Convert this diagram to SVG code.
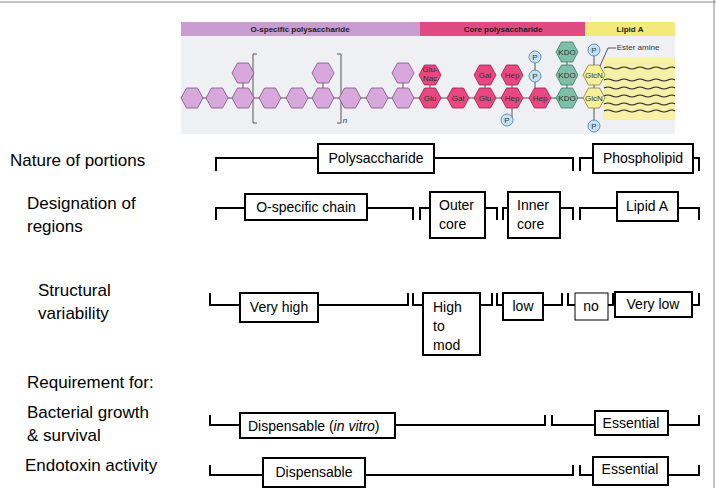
<svg xmlns="http://www.w3.org/2000/svg" width="716" height="488" viewBox="0 0 716 488">
<style>
.lbl{font-family:"Liberation Sans",Arial,sans-serif;font-size:17px;fill:#000}
.t{font-family:"Liberation Sans",Arial,sans-serif;font-size:14px;fill:#000}
.box{fill:#fff;stroke:#000;stroke-width:2}
.br{fill:none;stroke:#000;stroke-width:2}
.hx{font-family:"Liberation Sans",Arial,sans-serif;font-size:8px;fill:#333;text-anchor:middle}
.hd{font-family:"Liberation Sans",Arial,sans-serif;font-size:8px;font-weight:bold;fill:#222;text-anchor:middle}
.pu{fill:#d8a8dc;stroke:#7a5080;stroke-width:0.8}
.pk{fill:#e8487f;stroke:#9a2050;stroke-width:0.8}
.kd{fill:#7fbfa8;stroke:#3a7a6a;stroke-width:0.8}
.ye{fill:#f7ef9a;stroke:#8a8040;stroke-width:0.8}
.pc{fill:#c4e2f6;stroke:#4a7aa0;stroke-width:0.8}
.ln{stroke:#555;stroke-width:1;fill:none}
.wv{stroke:#222;stroke-width:1.2;fill:none}
</style>
<defs>
<polygon id="h" points="-11,0 -5.5,-10 5.5,-10 11,0 5.5,10 -5.5,10"/>
</defs>
<rect width="716" height="488" fill="#fff"/>
<line x1="0" y1="2" x2="716" y2="2" stroke="#888" stroke-width="1"/>
<line x1="714" y1="0" x2="714" y2="488" stroke="#888" stroke-width="1"/>

<g id="illustration">
<rect x="181" y="22" width="494" height="112" fill="#eef0f4"/>
<rect x="181" y="22" width="239" height="14" fill="#c99cd2"/>
<rect x="420" y="22" width="165" height="14" fill="#e04a82"/>
<rect x="585" y="22" width="90" height="14" fill="#f4ea7c"/>
<text class="hd" x="300" y="32">O-specific polysaccharide</text>
<text class="hd" x="503" y="32">Core polysaccharide</text>
<text class="hd" x="630" y="32">Lipid A</text>
<rect x="603" y="58" width="72" height="62" fill="#f6f0a8"/>
<line class="ln" x1="181" y1="98" x2="590" y2="98"/>
<line class="ln" x1="243" y1="73" x2="243" y2="98"/>
<line class="ln" x1="323" y1="73" x2="323" y2="98"/>
<line class="ln" x1="403" y1="73" x2="403" y2="98"/>
<line class="ln" x1="430" y1="75" x2="430" y2="98"/>
<line class="ln" x1="485" y1="75" x2="485" y2="98"/>
<line class="ln" x1="512" y1="75" x2="512" y2="120"/>
<line class="ln" x1="535" y1="57" x2="535" y2="98"/>
<line class="ln" x1="567" y1="52" x2="567" y2="98"/>
<line class="ln" x1="594" y1="50" x2="594" y2="122"/>
<path class="ln" d="M257,54 h-4 v69 h4 M337,54 h4 v69 h-4"/>
<text class="hx" x="345" y="123" font-style="italic">n</text>
<g class="pu">
<use href="#h" x="192" y="98"/><use href="#h" x="217" y="98"/><use href="#h" x="243" y="98"/>
<use href="#h" x="270" y="98"/><use href="#h" x="297" y="98"/><use href="#h" x="323" y="98"/>
<use href="#h" x="350" y="98"/><use href="#h" x="377" y="98"/><use href="#h" x="403" y="98"/>
<use href="#h" x="243" y="73"/><use href="#h" x="323" y="73"/><use href="#h" x="403" y="73"/>
</g>
<g class="pk">
<use href="#h" x="430" y="75"/><use href="#h" x="430" y="98"/><use href="#h" x="458" y="98"/>
<use href="#h" x="485" y="98"/><use href="#h" x="485" y="75"/><use href="#h" x="512" y="98"/>
<use href="#h" x="512" y="75"/><use href="#h" x="540" y="98"/>
</g>
<g class="kd"><use href="#h" x="567" y="52"/><use href="#h" x="567" y="75"/><use href="#h" x="567" y="98"/></g>
<g class="ye"><use href="#h" x="594" y="75"/><use href="#h" x="594" y="98"/></g>
<g class="pc">
<circle cx="535" cy="57" r="6"/><circle cx="535" cy="76" r="6"/><circle cx="507" cy="120" r="6"/>
<circle cx="594" cy="50" r="6"/><circle cx="594" cy="126" r="6"/>
</g>
<g class="hx">
<text x="430" y="72">Glu-</text><text x="430" y="81">Nac</text>
<text x="430" y="101">Glu</text><text x="458" y="101">Gal</text><text x="485" y="101">Glu</text>
<text x="485" y="78">Gal</text><text x="512" y="78">Hep</text><text x="512" y="101">Hep</text>
<text x="540" y="101">Hep</text>
<text x="567" y="55">KDO</text><text x="567" y="78">KDO</text><text x="567" y="101">KDO</text>
<text x="594" y="78">GlcN</text><text x="594" y="101">GlcN</text>
<text x="535" y="60">P</text><text x="535" y="79">P</text><text x="507" y="123">P</text>
<text x="594" y="53">P</text><text x="594" y="129">P</text>
<text x="638" y="50" style="text-anchor:middle">Ester amine</text>
</g>
<path class="ln" d="M600,66 L608,48 H616"/>
<g class="wv">
<path d="M604,68 q4,-2 8,0 t8,0 t8,0 t8,0 t8,0 t8,0 t8,0 t8,0 t7,0"/>
<path d="M604,80 q4,-2 8,0 t8,0 t8,0 t8,0 t8,0 t8,0 t8,0 t8,0 t7,0"/>
<path d="M604,88 q4,-2 8,0 t8,0 t8,0 t8,0 t8,0 t8,0 t8,0 t8,0 t7,0"/>
<path d="M604,96 q4,-2 8,0 t8,0 t8,0 t8,0 t8,0 t8,0 t8,0 t8,0 t7,0"/>
<path d="M604,104 q4,-2 8,0 t8,0 t8,0 t8,0 t8,0 t8,0 t8,0 t8,0 t7,0"/>
<path d="M604,111 q4,-2 8,0 t8,0 t8,0 t8,0 t8,0 t8,0 t8,0 t8,0 t7,0"/>
</g>
</g>

<g id="labels">
<text class="lbl" x="10" y="166">Nature of portions</text>
<text class="lbl" x="27" y="209">Designation of</text>
<text class="lbl" x="27" y="232">regions</text>
<text class="lbl" x="38" y="296">Structural</text>
<text class="lbl" x="38" y="319">variability</text>
<text class="lbl" x="27" y="388">Requirement for:</text>
<text class="lbl" x="27" y="418">Bacterial growth</text>
<text class="lbl" x="27" y="441">&amp; survival</text>
<text class="lbl" x="25" y="471">Endotoxin activity</text>
</g>

<g id="connectors">
<path class="br" d="M216,171 V158 H573 V171"/>
<path class="br" d="M580,171 V158 H699 V171"/>
<path class="br" d="M216,220 V208 H413 V220"/>
<path class="br" d="M420,220 V208 H497 V220"/>
<path class="br" d="M503,220 V208 H573 V220"/>
<path class="br" d="M580,220 V208 H699 V220"/>
<path class="br" d="M210,293 V305 H408 V293"/>
<path class="br" d="M413,293 V305 H492 V293"/>
<path class="br" d="M497,293 V305 H562 V293"/>
<path class="br" d="M568,293 V305 H575"/>
<path class="br" d="M608,305 H613 V293"/>
<path class="br" d="M613,305 H699 V293"/>
<path class="br" d="M210,415 V425 H545 V415"/>
<path class="br" d="M552,415 V425 H699 V415"/>
<path class="br" d="M210,465 V475 H573 V465"/>
<path class="br" d="M580,465 V475 H699 V465"/>
</g>

<g id="n-poly"><rect class="box" x="318" y="144" width="116" height="29"/><text class="t" x="376" y="163" text-anchor="middle">Polysaccharide</text></g>
<g id="n-phos"><rect class="box" x="593" y="144" width="100" height="29"/><text class="t" x="643" y="163" text-anchor="middle">Phospholipid</text></g>
<g id="n-ochain"><rect class="box" x="245" y="194" width="122" height="26"/><text class="t" x="306" y="212" text-anchor="middle">O-specific chain</text></g>
<g id="n-outer"><rect class="box" x="430" y="192" width="55" height="46"/><text class="t" x="439" y="210">Outer</text><text class="t" x="439" y="229">core</text></g>
<g id="n-inner"><rect class="box" x="508" y="192" width="52" height="46"/><text class="t" x="517" y="210">Inner</text><text class="t" x="517" y="229">core</text></g>
<g id="n-lipida"><rect class="box" x="617" y="192" width="61" height="29"/><text class="t" x="647" y="211" text-anchor="middle">Lipid A</text></g>
<g id="n-vhigh"><rect class="box" x="240" y="293" width="78" height="29"/><text class="t" x="279" y="312" text-anchor="middle">Very high</text></g>
<g id="n-hmod"><rect class="box" x="423" y="293" width="57" height="62"/><text class="t" x="433" y="312">High</text><text class="t" x="433" y="331">to</text><text class="t" x="433" y="350">mod</text></g>
<g id="n-low"><rect class="box" x="503" y="293" width="40" height="27"/><text class="t" x="523" y="311" text-anchor="middle">low</text></g>
<g id="n-no"><rect x="575" y="293" width="33" height="27" fill="#fff" stroke="#000" stroke-width="1"/><text class="t" x="591" y="311" text-anchor="middle">no</text></g>
<g id="n-vlow"><rect class="box" x="615" y="292" width="77" height="25"/><text class="t" x="653" y="309" text-anchor="middle">Very low</text></g>
<g id="n-disp1"><rect class="box" x="240" y="413" width="155" height="25"/><text class="t" x="248" y="431">Dispensable (<tspan font-style="italic">in vitro</tspan>)</text></g>
<g id="n-ess1"><rect class="box" x="595" y="411" width="73" height="24"/><text class="t" x="631" y="428" text-anchor="middle">Essential</text></g>
<g id="n-disp2"><rect class="box" x="263" y="458" width="102" height="29"/><text class="t" x="314" y="477" text-anchor="middle">Dispensable</text></g>
<g id="n-ess2"><rect class="box" x="593" y="457" width="75" height="28"/><text class="t" x="630" y="474" text-anchor="middle">Essential</text></g>
</svg>
